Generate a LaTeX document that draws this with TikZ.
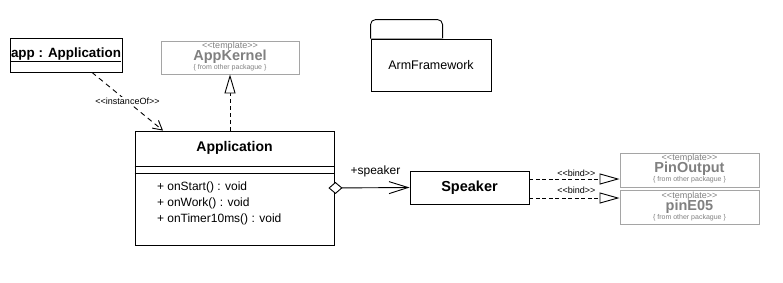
\documentclass[tikz,border=0pt]{standalone}
\usepackage{fontspec}
\setmainfont{Liberation Sans}
\usetikzlibrary{positioning, arrows.meta}
\definecolor{tmplgray}{RGB}{128,128,128}
\definecolor{tmplline}{RGB}{165,165,165}
\newcommand{\fsz}[2][]{\fontsize{#2}{#2}\selectfont}

\begin{document}
\begin{tikzpicture}[
  x=1pt, y=-1pt, line width=0.9pt,
  font=\fsz{12},
  obj/.style={draw, minimum width=112pt, minimum height=34pt, inner sep=0pt, font=\fsz{13.4}\bfseries},
  cls/.style={draw, minimum width=119pt, minimum height=33pt, inner sep=0pt, font=\fsz{14.5}\bfseries},
  tmpl/.style={draw=tmplline, minimum width=139pt, minimum height=34pt, inner sep=0pt},
  stereo/.style={text=tmplgray, font=\fsz{9}, inner sep=0pt},
  tname/.style={text=tmplgray, font=\fsz{14.5}\bfseries, inner sep=0pt},
  tpkg/.style={text=tmplgray, font=\fsz{7}, inner sep=0pt},
  lbl/.style={font=\fsz{9}, inner sep=1pt},
  dep/.style={dash pattern=on 5pt off 4pt, -{Straight Barb[length=9pt,width=10pt]}},
  realize/.style={dash pattern=on 4pt off 3pt, -{Triangle[length=19pt,width=11pt,fill=white]}},
  bindln/.style={dash pattern=on 4pt off 2.5pt, -{Triangle[length=20pt,width=11pt,fill=white]}},
  agg/.style={{Diamond[length=14pt,width=12pt,fill=white]}-{Straight Barb[length=19pt,width=12pt]}}
]
\useasboundingbox (0,0) rectangle (783,282);

% object and classes
\node[obj] (app) at (66,55) {\underline{app : Application}};
\node[draw, minimum width=199pt, minimum height=114pt, inner sep=0pt] (appcls) at (234.5,188) {};
\node[font=\fsz{14}\bfseries, inner sep=0pt] (appname) at ([yshift=-17pt]appcls.north) {Application};
\draw (appcls.north west) ++(0,36) -- ++(199,0);
\draw (appcls.north west) ++(0,43) -- ++(199,0);
\node[anchor=north west, align=left, inner sep=0pt, font=\fontsize{12}{16}\selectfont] (appops)
  at ([xshift=22pt,yshift=-51pt]appcls.north west)
  {+ onStart() : void\\+ onWork() : void\\+ onTimer10ms() : void};
\node[cls] (speaker) at (469.5,187.5) {Speaker};

% templates from other package
\node[tmpl, minimum width=138pt, minimum height=33pt] (kernel) at (230,57.5) {};
\node[tmpl] (pinout) at (689.5,170) {};
\node[tmpl, below=3pt of pinout] (pinfive) {};
\foreach \n/\t in {kernel/AppKernel, pinout/PinOutput, pinfive/pinE05} {
  \node[stereo] (\n-st) at ([yshift=-5.5pt]\n.north) {<{}<template>{}>};
  \node[tname] (\n-nm) at ([yshift=-16pt]\n.north) {\t};
  \node[tpkg] (\n-pk) at ([yshift=-27pt]\n.north) {\{ from other packague \}};
}

% package
\node[draw, minimum width=120pt, minimum height=52pt, inner sep=0pt, font=\fsz{12.5}] (armpkg) at (431,65) {ArmFramework};
\draw[rounded corners=5pt] (armpkg.north west) -- ++(0,-19) -- ++(72,0) -- ++(0,19);
\draw[tmplline] (armpkg.north west) -- ++(72,0);

% relations
\draw[dep] ([xshift=26pt]app.south) -- node[lbl, fill=white] {<{}<instanceOf>{}>} ([xshift=-71.5pt]appcls.north);
\draw[realize] (kernel.south |- appcls.north) -- (kernel.south);
\draw[agg] ([xshift=-6pt]appcls.east) -- node[pos=0.58, above=10pt, inner sep=0pt] {+speaker} (speaker.west);
\coordinate (bindA) at ([yshift=8.5pt]speaker.east);
\coordinate (bindB) at ([yshift=-10.5pt]speaker.east);
\draw[bindln] (bindA) -- node[lbl, pos=0.52, above=1pt] {<{}<bind>{}>} (bindA -| pinout.west);
\draw[bindln] (bindB) -- node[lbl, pos=0.52, above=3pt] {<{}<bind>{}>} (bindB -| pinfive.west);
\end{tikzpicture}
\end{document}
